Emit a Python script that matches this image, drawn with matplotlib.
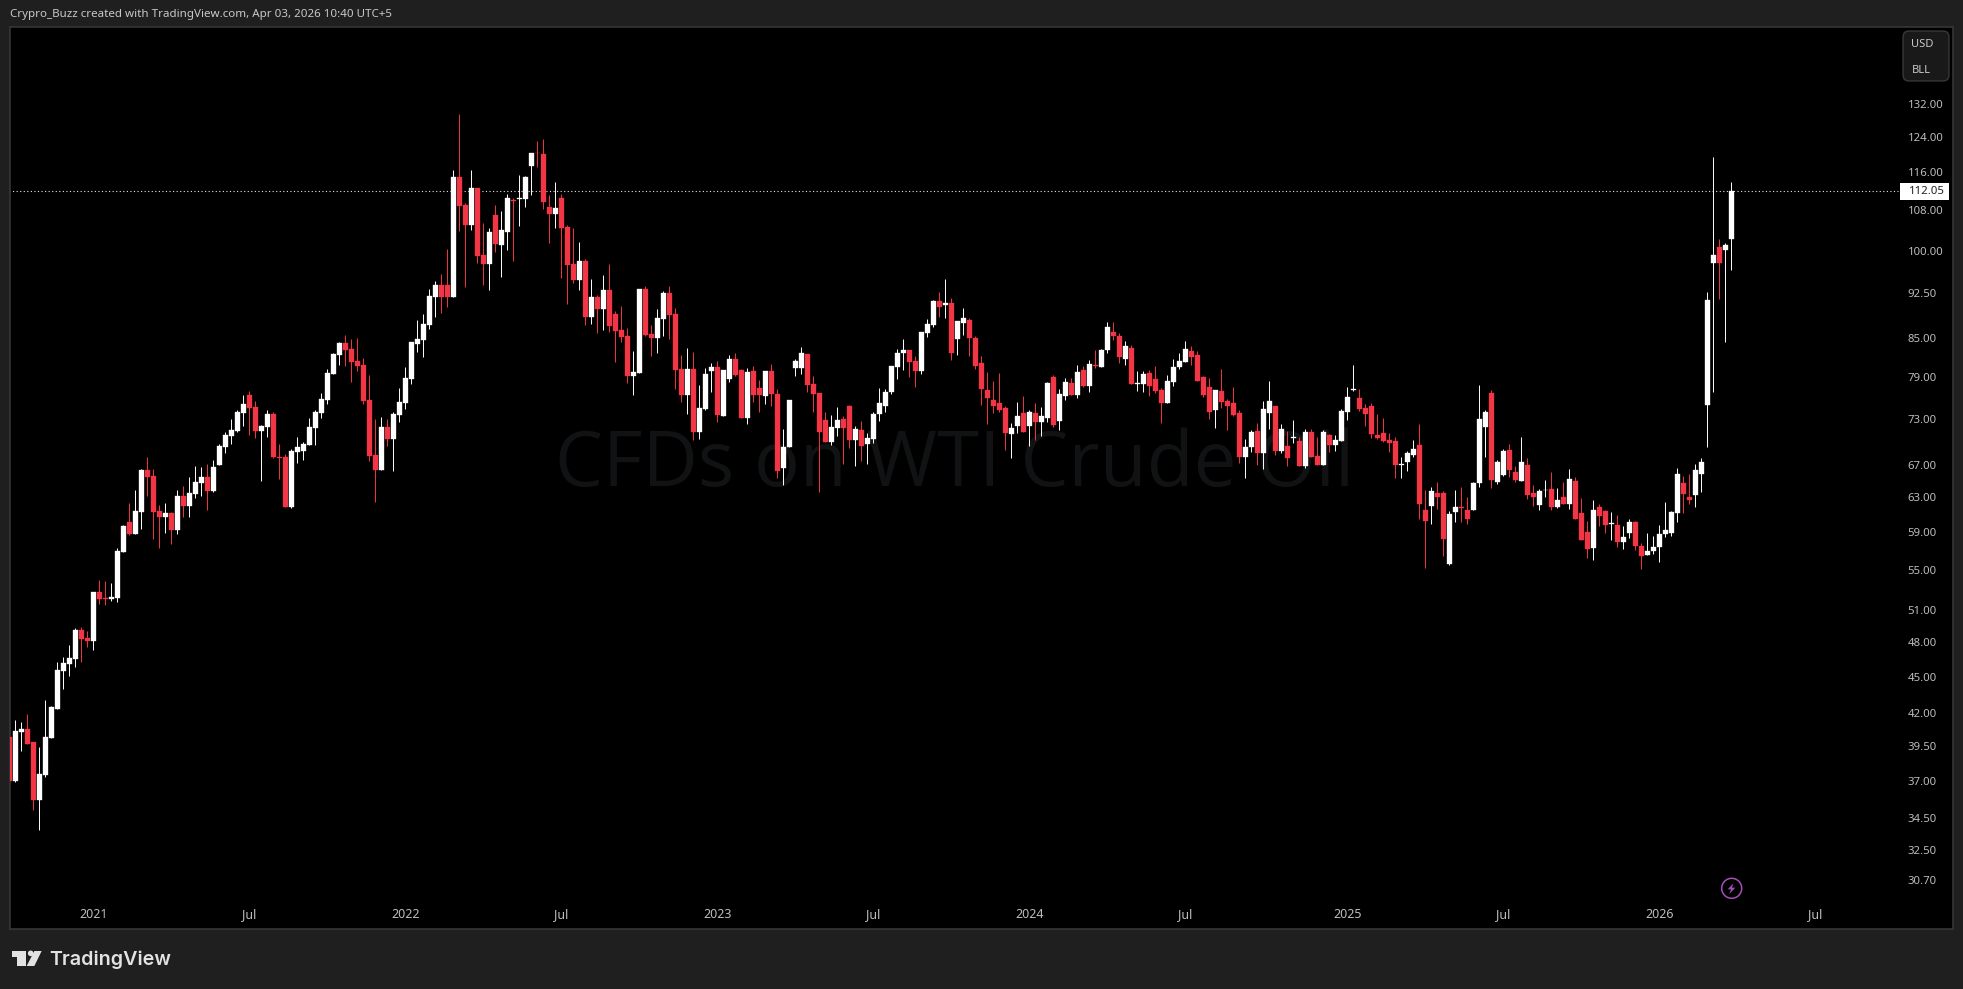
import numpy as np
import matplotlib
matplotlib.use("Agg")
import matplotlib.pyplot as plt
from matplotlib.patches import Rectangle, FancyBboxPatch, Circle, Polygon
from matplotlib.ticker import NullLocator

# weekly WTI candles
highs = [40.70,41.47,41.31,41.94,39.84,39.44,43.05,42.56,46.29,46.67,
47.74,49.29,49.38,49.02,52.78,53.94,53.83,53.63,57.27,59.82,
62.33,63.87,66.45,67.95,66.45,62.10,62.33,61.33,63.87,64.35,
65.45,66.81,66.69,67.06,67.56,69.68,71.22,72.97,74.26,76.37,
76.90,75.49,72.17,74.26,73.98,69.59,68.33,68.97,70.55,69.89,
73.12,74.26,76.65,80.19,
82.58,84.30,85.41,84.83,84.99,81.8,79.28,72.96,73.28,72.96,
73.97,77.37,80.49,84.41,87.91,88.9,93.1,94.6,95.83,100.4,
116.5,129.4,109.5,116.5,112.6,105.45,104.4,109.05,107.85,111.35,
110.5,115.4,115.2,120.3,123.0,123.5,111.15,113.9,111.35,105.1,
104.5,101.75,98.6,94.95,92.1,95.65,97.7,89.4,90.25,86.6,
82.9,93.2,93.7,
87.07,89.73,92.82,93.66,89.85,82.3,83.4,82.75,77.8,80.3,
81.05,81.35,80.0,82.3,82.6,80.17,80.3,80.6,78.55,79.85,
80.9,77.3,71.65,75.65,81.7,83.5,82.45,79.1,76.65,73.95,
73.55,74.65,73.4,74.95,72.05,72.7,71.1,73.95,77.35,77.2,
80.6,83.2,84.8,83.05,82.15,85.95,88.07,91.2,92.65,95.0,
91.55,87.75,89.9,88.2,
85.3,82.1,79.7,78.4,79.55,74.85,72.45,75.3,76.2,74.25,
75.2,74.65,78.25,79.3,77.2,78.8,78.8,80.75,80.6,81.55,
83.1,83.25,87.6,87.6,85.75,84.45,83.85,79.85,79.85,80.0,
80.6,77.35,79.3,81.7,82.65,84.45,83.7,82.95,79.1,78.8,
77.1,80.15,75.75,77.5,74.25,70.3,71.5,72.45,75.45,78.4,
74.75,72.3,71.35,
72.85,70.55,71.65,71.65,70.55,71.5,71.0,70.85,74.4,77.55,
80.75,77.25,75.1,75.25,73.65,73.1,71.15,70.55,67.95,68.75,
70.17,72.3,63.88,64.25,64.9,63.75,61.4,63.88,64.25,63.05,
64.9,77.75,74.2,77.07,67.55,69.0,69.65,66.85,70.55,67.85,
64.5,64.0,65.1,66.1,64.15,64.9,66.45,65.45,62.9,60.25,
62.7,62.2,61.5,
61.3,60.95,59.7,60.5,60.25,57.8,58.9,58.6,59.8,62.45,
61.4,66.55,65.55,65.8,67.05,67.85,92.65,119.4,102.35,101.6,113.9]

lows = [36.98,36.95,39.12,39.64,35.01,33.73,37.28,40.08,42.32,43.95,
45.03,45.83,46.23,47.56,47.29,51.56,51.46,51.89,51.75,56.85,
58.70,58.81,59.36,63.15,58.29,57.27,58.92,57.70,58.81,60.71,
60.71,62.92,63.15,61.55,63.62,66.94,68.46,69.72,71.22,72.06,
70.81,70.42,65.0,70.55,67.80,65.19,61.86,61.75,67.19,67.56,
69.50,69.50,73.12,75.09,
79.43,80.79,80.64,78.24,79.88,75.09,67.48,62.46,66.33,69.39,
66.21,72.6,74.38,77.94,82.78,82.01,86.44,88.4,89.06,90.07,
91.8,103.9,93.55,104.1,97.85,93.9,93.0,99.9,95.3,100.25,
98.2,104.9,108.7,111.15,117.1,108.3,101.6,104.5,95.1,90.6,
94.2,93.0,87.1,87.25,85.8,86.3,85.95,81.25,84.35,78.1,
76.4,79.6,85.3,
82.15,82.6,85.3,84.8,77.2,75.35,73.75,70.17,70.3,74.2,
76.8,72.6,73.4,78.25,79.1,73.1,72.3,75.35,73.9,75.05,
74.8,65.3,64.5,69.25,79.1,79.4,76.8,73.9,63.6,69.9,
69.5,70.7,67.05,69.1,66.85,67.45,67.05,69.75,72.7,73.95,
76.5,78.7,80.0,78.95,77.5,79.4,85.15,86.7,88.4,88.2,
81.55,82.3,85.45,82.15,
80.15,74.9,72.3,73.8,73.95,68.85,67.85,71.1,71.2,69.4,
70.2,70.7,72.6,71.9,71.5,75.6,76.35,75.9,77.5,76.8,
80.3,80.45,82.65,84.6,81.1,80.75,77.9,76.95,76.8,76.2,
76.65,72.45,75.2,77.65,80.15,81.25,80.75,78.4,76.05,73.0,
71.75,74.5,71.5,73.4,67.2,65.3,68.6,66.95,66.45,71.6,
68.2,68.45,66.8,
69.75,66.85,66.6,67.95,67.0,67.0,68.6,68.75,70.05,72.85,
76.9,74.1,72.05,70.4,70.3,69.9,68.6,65.3,65.3,66.2,
67.95,60.45,55.2,59.9,61.65,56.45,55.5,60.15,60.15,59.9,
61.5,64.25,67.95,64.15,64.65,65.55,65.45,64.8,65.0,62.8,
61.95,61.5,63.05,61.5,61.75,62.2,61.65,60.45,58.15,56.2,
56.0,59.7,58.95,
58.15,57.4,57.2,58.35,57.05,55.1,56.5,56.65,55.8,58.5,
58.6,60.15,61.2,62.25,61.85,63.65,69.25,76.8,91.4,84.35,96.5]

opens = [40.19,36.98,40.57,40.77,39.79,35.68,37.40,40.08,42.37,45.45,
46.06,46.49,49.11,48.37,48.10,52.72,52.15,52.05,52.15,56.85,
60.14,58.81,61.33,66.31,65.57,61.44,60.71,61.22,59.25,63.15,
61.98,63.38,64.71,65.45,63.74,66.94,69.20,70.68,71.36,73.84,
76.33,74.68,71.36,71.92,73.70,67.95,67.95,61.86,68.59,68.72,
69.50,71.78,73.84,75.63,
79.43,82.32,84.2,83.25,81.4,80.79,75.65,68.24,66.33,71.91,
70.31,73.55,75.23,78.69,84.03,84.67,87.09,91.8,93.9,93.9,
91.8,115.0,109.1,105.1,112.6,99.3,97.7,107.05,101.2,103.7,
110.15,110.3,110.3,117.35,120.3,120.0,108.7,107.3,110.5,104.7,
97.7,94.75,98.2,88.4,91.8,89.75,93.0,88.9,86.3,85.3,
79.15,79.6,93.2,
85.63,84.98,88.07,92.47,88.9,80.17,76.35,80.17,71.25,74.35,
79.85,80.45,73.4,78.7,81.7,80.0,73.1,79.85,77.35,76.2,
79.85,76.5,66.6,69.25,80.3,80.3,82.45,77.95,76.65,72.85,
69.9,71.75,73.0,74.8,70.17,71.5,69.65,70.3,73.75,74.8,
76.8,80.45,82.6,83.05,81.35,79.85,85.8,87.05,91.05,90.4,
90.7,84.8,87.4,87.9,
84.96,81.07,77.1,75.6,75.2,74.5,70.95,72.05,73.8,72.05,
73.8,72.6,73.1,78.95,72.75,76.2,78.1,76.35,80.0,77.65,
80.75,80.45,83.1,85.9,85.25,81.7,83.4,77.95,77.95,79.55,
78.7,77.1,75.2,78.25,80.45,81.25,82.95,82.35,78.95,77.5,
74.25,76.95,75.45,75.2,73.8,67.95,69.25,71.35,68.45,73.8,
74.75,68.7,69.4,
70.4,70.05,66.85,71.25,68.1,67.0,70.85,69.5,70.05,73.95,
77.15,76.0,74.5,74.8,70.85,71.15,70.17,70.05,67.0,67.3,
68.2,69.55,61.5,62.0,63.5,63.5,55.6,61.3,61.85,61.5,
61.5,64.75,71.9,76.65,64.9,65.7,68.9,66.1,65.0,67.0,
63.5,62.1,63.85,64.0,61.85,63.05,62.2,65.0,61.15,59.05,
57.25,61.85,61.4,
59.95,59.8,57.95,58.9,60.15,57.5,56.5,56.95,57.4,58.85,
58.9,61.2,64.7,63.05,63.3,65.8,74.95,97.85,100.85,100.3,102.35]

closes = [36.98,40.62,40.77,39.69,35.68,37.47,40.16,42.48,45.54,46.15,
46.58,49.14,48.28,48.10,52.72,52.05,52.05,52.24,56.95,59.71,
58.81,61.44,66.31,65.45,61.33,60.71,61.22,59.25,63.15,61.98,
63.50,64.83,65.45,63.74,66.69,69.33,70.81,71.49,73.98,75.09,
74.54,71.36,72.06,73.70,67.93,67.87,61.86,68.72,69.20,69.63,
71.92,73.98,75.79,79.59,
82.47,84.2,83.09,81.24,80.64,75.5,68.11,66.33,71.91,70.31,
73.69,75.37,78.84,84.35,84.83,87.25,91.95,93.9,91.8,91.8,
115.0,108.9,105.1,112.6,99.1,97.7,103.7,101.4,104.1,110.5,
110.0,110.5,115.0,120.3,120.2,109.7,107.3,108.5,104.5,97.5,
94.75,98.2,88.4,91.8,89.75,93.0,86.9,86.1,85.15,79.15,
79.75,93.2,85.45,
84.98,88.23,92.47,88.73,80.0,76.35,80.17,71.25,74.5,79.4,
80.45,73.55,80.0,81.7,79.3,73.1,79.7,76.35,76.35,79.85,
76.5,66.2,69.25,75.65,81.35,82.6,77.8,76.5,71.3,69.9,
71.9,72.85,71.75,70.17,71.65,69.35,70.45,73.75,75.2,76.8,
80.6,82.6,83.05,81.3,79.85,85.95,87.25,91.05,90.05,90.7,
82.6,87.75,88.2,84.98,
80.62,77.2,75.9,74.85,74.25,71.1,71.75,73.4,71.2,73.95,
72.6,73.4,78.1,72.15,76.5,78.25,76.35,79.7,77.65,80.9,
80.6,83.1,86.75,85.25,82.0,83.7,77.9,78.1,79.4,77.65,
76.95,75.2,78.4,80.45,81.4,83.25,82.0,78.4,76.35,73.95,
77.1,75.3,74.75,73.55,67.95,69.25,71.2,68.45,74.35,75.45,
68.7,71.6,67.85,
70.55,66.85,71.25,67.95,67.0,71.25,69.5,70.17,74.1,76.1,
77.3,74.4,73.65,70.95,70.4,70.05,69.75,67.0,67.1,68.45,
69.0,62.2,60.25,63.75,63.05,58.25,61.05,61.85,61.75,60.55,
64.75,73.0,73.95,65.1,67.3,68.75,66.35,65.1,67.4,63.3,
63.05,63.75,63.95,61.85,62.7,62.2,65.2,60.55,58.15,57.15,
61.5,60.8,59.8,
60.05,57.95,58.5,60.15,57.5,56.45,56.95,57.4,58.8,59.25,
61.3,65.8,63.4,62.7,66.3,67.35,91.25,99.3,97.85,101.25,112.05]

price_ticks = [132,124,116,108,100,92.5,85,79,73,67,63,59,55,51,48,45,42,39.5,37,34.5,32.5,30.7]
price_labels = ["132.00","124.00","116.00","108.00","100.00","92.50","85.00","79.00","73.00","67.00","63.00",
                "59.00","55.00","51.00","48.00","45.00","42.00","39.50","37.00","34.50","32.50","30.70"]
time_ticks = [14,40,66,92,118,144,170,196,223,249,275,301]
time_labels = ["2021","Jul","2022","Jul","2023","Jul","2024","Jul","2025","Jul","2026","Jul"]
last_price = 112.05

W, H = 1963, 989
BG = "#1f1f1f"
RED = "#f23645"
TXT = "#bcbcbc"
FONT = ["Noto Sans", "DejaVu Sans"]
plt.rcParams["font.family"] = FONT


def fx(x):
    return x / W


def fy(y):
    return 1 - y / H


opens, highs, lows, closes = map(np.array, (opens, highs, lows, closes))
xs = np.arange(len(closes))
up = closes >= opens
colors = np.where(up, "#ffffff", RED)

fig = plt.figure(figsize=(W / 100, H / 100), dpi=100, facecolor=BG)

# pane: 10..1953 x 27..929 px
ax = fig.add_axes([fx(10), fy(929), fx(1943), 902 / H], facecolor="black")
ax.set_yscale("log")
ax.set_ylim(28.02, 152.4)
ax.set_xlim(0.112, 323.95)
for s in ax.spines.values():
    s.set_color("#363636")
    s.set_linewidth(1.2)

ax.text(157.5, 66.85, "CFDs on WTI Crude Oil", color="#111213", fontsize=55,
        ha="center", va="center", family="Open Sans", zorder=0)

ax.hlines(last_price, 0, 314.8, color="#e8e8e8", lw=0.8, linestyles=(0, (1, 2.2)), zorder=1)
ax.vlines(xs, lows, highs, colors=colors, lw=0.7, zorder=2)
body_lo = np.minimum(opens, closes)
body_hi = np.maximum(opens, closes)
ax.bar(xs, body_hi - body_lo, bottom=body_lo, width=0.76, color=colors,
       edgecolor=colors, linewidth=0.25, zorder=3)

ax.yaxis.set_minor_locator(NullLocator())
ax.yaxis.tick_right()
ax.set_yticks(price_ticks)
ax.set_yticklabels(price_labels)
ax.yaxis.set_minor_locator(NullLocator())
ax.tick_params(axis="y", length=0, pad=-32.6, labelsize=8.2, labelcolor=TXT)
for lab in ax.get_yticklabels():
    lab.set_ha("left")
ax.set_xticks(time_ticks)
ax.set_xticklabels(time_labels)
ax.tick_params(axis="x", length=0, pad=-15, labelsize=9, labelcolor=TXT)

# header, currency box, last price tag
fig.text(fx(10), fy(15), "Crypro_Buzz created with TradingView.com, Apr 03, 2026 10:40 UTC+5",
         color="#c8c8c8", fontsize=8.33, va="center", ha="left")
fig.add_artist(FancyBboxPatch((fx(1906), fy(78)), fx(40), 44 / H,
                              boxstyle="round,pad=0.0015,rounding_size=0.003", mutation_aspect=W / H,
                              transform=fig.transFigure, fc="#191919", ec="#383838", lw=1))
fig.text(fx(1911.5), fy(44.5), "USD", color="#c8c8c8", fontsize=8, va="center")
fig.text(fx(1911.5), fy(70.5), "BLL", color="#c8c8c8", fontsize=8, va="center")
fig.add_artist(Rectangle((fx(1900), fy(199.7)), fx(49), 16.7 / H, transform=fig.transFigure, fc="white", ec="none"))
fig.text(fx(1908.5), fy(191.5), "%.2f" % last_price, color="#222222", fontsize=8.2, va="center")

# lightning badge
fig.add_artist(Circle((1731.7, H - 888.3), 10, transform=None, fc="none", ec="#a44fb8", lw=1.1))
bolt = [(160, 70), (143, 88), (153, 88), (148, 102), (166, 83), (156, 83)]
fig.add_artist(Polygon([(fx(1680 + a / 3), fy(860 + b / 3)) for a, b in bolt],
                       transform=fig.transFigure, fc="#a44fb8", ec="none"))

# TradingView logo
LOGO = "#e2e2e2"
t_mark = [(36, 153), (78, 153), (78, 198), (52, 198), (52, 172), (36, 172)]
slash = [(103, 153), (125, 153), (103, 198), (80, 198)]
for pts in (t_mark, slash):
    fig.add_artist(Polygon([(fx(a / 3), fy(900 + b / 3)) for a, b in pts],
                           transform=fig.transFigure, fc=LOGO, ec="none"))
fig.add_artist(Circle((92 / 3, H - (900 + 160 / 3)), 2.8, transform=None, fc=LOGO, ec="none"))
fig.text(fx(49.5), fy(960), "TradingView", color=LOGO, fontsize=14.2, weight="semibold",
         family="Inter", va="center", ha="left")

fig.savefig("out.png", dpi=100, facecolor=BG)
